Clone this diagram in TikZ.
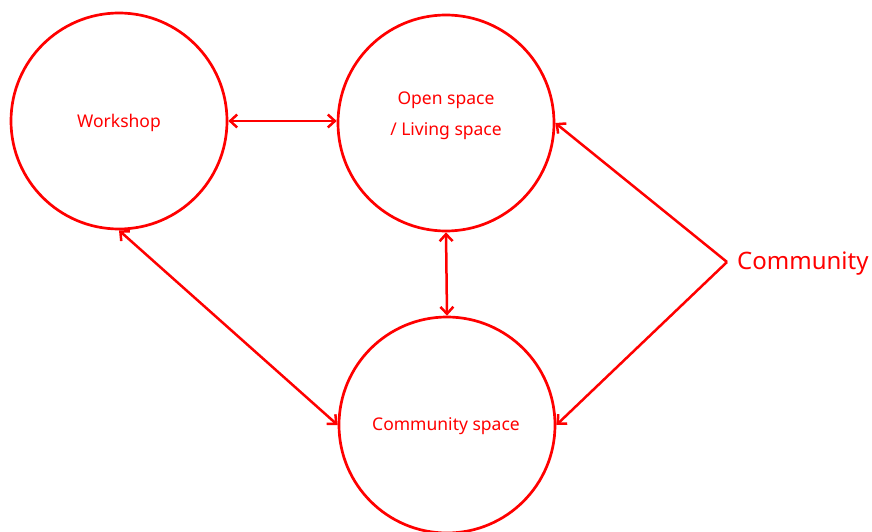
\documentclass[tikz,border=0pt]{standalone}
\usepackage{fontspec}
\setmainfont{Noto Sans}
\usetikzlibrary{arrows.meta}
\definecolor{rd}{RGB}{255,0,0}
\tikzset{
  place/.style={circle, draw=rd, line width=2.7pt, minimum size=216pt, inner sep=0pt, text=rd, font=\fontsize{17.5}{31}\selectfont, align=center},
  txt/.style={text=rd, font=\fontsize{17.5}{31}\selectfont, align=center, inner sep=0pt},
  link/.style={draw=rd, line width=2.5pt, {Straight Barb[length=7pt,width=13pt]}-{Straight Barb[length=7pt,width=13pt]}},
  oneway/.style={draw=rd, line width=2.5pt, -{Straight Barb[length=7pt,width=13pt]}}
}
\begin{document}
\begin{tikzpicture}[x=1pt,y=-1pt]
\useasboundingbox (0,0) rectangle (872,532);
\node[place] (work) at (119,121) {};
\node[txt] (worklbl) at (119,123) {Workshop};
\node[place] (open) at (446,123) {};
\node[txt] (openlbl) at (446,116) {Open space\\/ Living space};
\node[place] (comm) at (447,425) {};
\node[txt] (commlbl) at (446,426) {Community space};
\coordinate (hub) at (727,262);
\node[anchor=west, text=rd, font=\fontsize{24}{28}\selectfont, inner sep=0pt] (lab) at (737,264) {Community};
\draw[link] (work.east) -- (open.west |- work.east);
\draw[link] (open.south) -- (comm.north);
\draw[link] (work.south) -- (comm.west);
\draw[oneway] (hub) -- (open.east);
\draw[oneway] (hub) -- (comm.east);
\end{tikzpicture}
\end{document}
